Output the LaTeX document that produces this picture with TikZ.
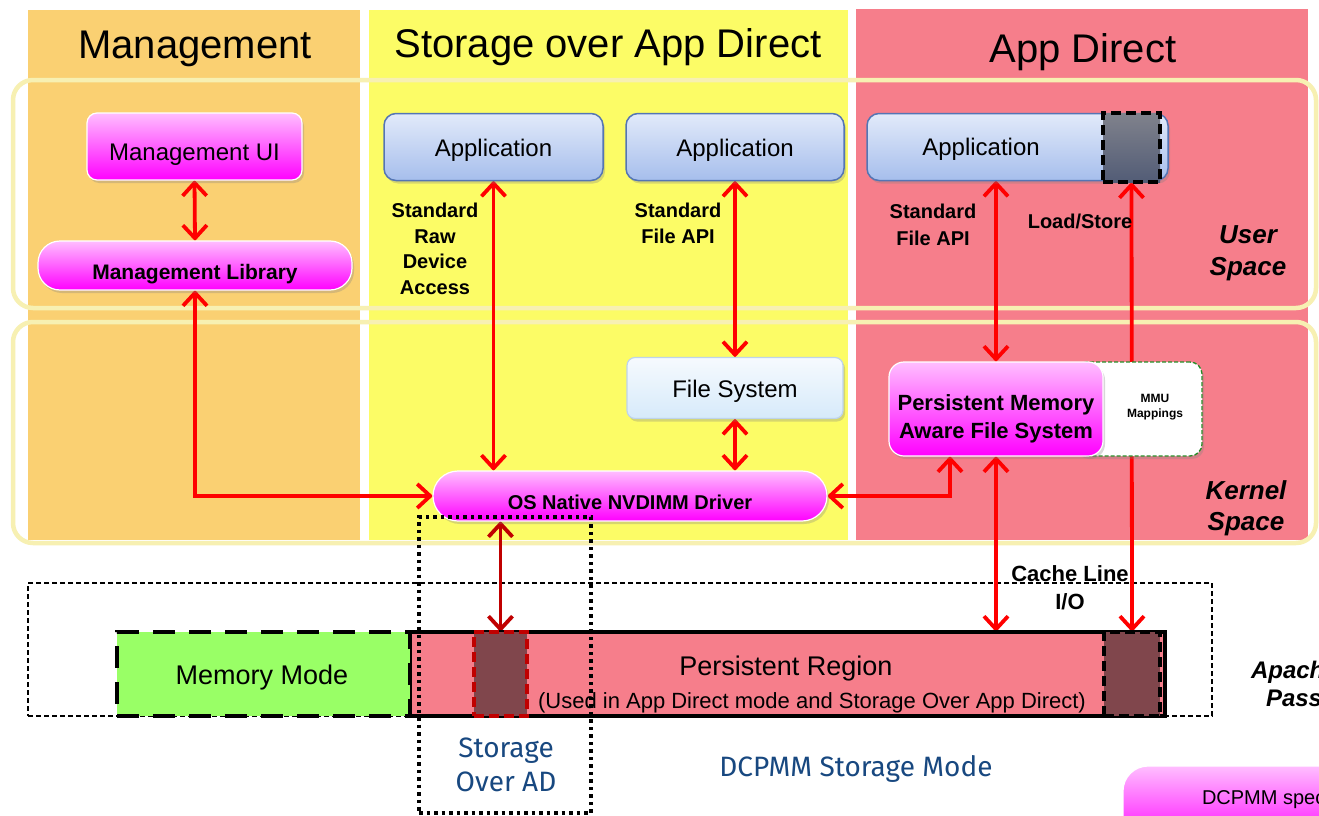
\documentclass[tikz,border=0pt]{standalone}
\usepackage{fontspec}
\setmainfont{Liberation Sans}
\newfontfamily\firafam{Fira Sans}
\usetikzlibrary{arrows.meta,shadows}
\pgfdeclarelayer{bg}
\pgfdeclarelayer{arr}
\pgfsetlayers{bg,arr,main}
\newcommand\fsz[2]{\fontsize{#1pt}{#2pt}\selectfont}
\definecolor{orangeBG}{RGB}{250,208,114}
\definecolor{yellowBG}{RGB}{252,252,102}
\definecolor{pinkBG}{RGB}{246,126,139}
\definecolor{bandC}{RGB}{247,240,178}
\definecolor{magTop}{RGB}{255,190,255}
\definecolor{appTop}{RGB}{226,234,250}
\definecolor{appBot}{RGB}{166,190,236}
\definecolor{appBorder}{RGB}{84,117,180}
\definecolor{fsTop}{RGB}{246,250,254}
\definecolor{fsBot}{RGB}{214,234,250}
\definecolor{fsBorder}{RGB}{190,212,235}
\definecolor{gsqTop}{RGB}{128,130,140}
\definecolor{gsqBot}{RGB}{82,92,118}
\definecolor{darkSq}{RGB}{128,70,76}
\definecolor{darkRed}{RGB}{192,0,0}
\definecolor{arrRed}{RGB}{255,0,0}
\definecolor{greenMM}{RGB}{153,255,102}
\definecolor{blueTxt}{RGB}{24,72,128}
\definecolor{mmuGreen}{RGB}{40,140,40}
\begin{document}
\begin{tikzpicture}[x=1pt,y=-1pt,
  every node/.style={inner sep=0pt,outer sep=0pt},
  shad/.style={drop shadow={shadow xshift=2pt,shadow yshift=-3pt,opacity=0.3}},
  mag/.style={shad,draw=white,line width=1.2pt,top color=magTop,bottom color=magenta},
  appbox/.style={shad,draw=appBorder,line width=1.5pt,top color=appTop,bottom color=appBot,rounded corners=12pt,minimum height=67pt},
  txt/.style={anchor=base,font=\fsz{24}{28}},
  btxt/.style={anchor=base,font=\fsz{20}{25}\bfseries},
  bitxt/.style={anchor=base,font=\fsz{26}{30}\bfseries\itshape},
  ttl/.style={anchor=base,font=\fsz{40}{48}},
  band/.style={draw=bandC,line width=4.5pt,rounded corners=20pt},
  rar/.style={draw=arrRed,line width=3.8pt,>={Straight Barb[length=13pt,width=24pt]},<->},
  bluetxt/.style={anchor=base,text=blueTxt,font=\firafam\fsz{28}{32}},
]
\useasboundingbox (0,0) rectangle (1319,816);
\clip (0,0) rectangle (1319,816);

\begin{pgfonlayer}{bg}
  \fill[white] (0,0) rectangle (1319,816);
  \fill[orangeBG] (28,10) rectangle (360,540);
  \fill[yellowBG] (369,10) rectangle (848,540);
  \fill[pinkBG] (856,9) rectangle (1308,540);
  \draw[band] (13,80) rectangle (1316,308);
  \draw[band] (13,322) rectangle (1316,543);
  \node[draw,line width=1.2pt,dash pattern=on 5pt off 3pt,minimum width=1184pt,minimum height=133pt] (bigdash) at (620,649.5) {};
\end{pgfonlayer}

% titles
\node[ttl] (tmg) at (195,59) {Management};
\node[ttl] (tsad) at (608,58) {Storage over App Direct};
\node[ttl] (tad) at (1083,63) {App Direct};

% user space
\node[mag,rounded corners=10pt,minimum width=215pt,minimum height=67pt] (mui) at (194.5,146.5) {};
\node[txt] (muit) at (194.5,160) {Management UI};
\node[mag,rounded corners=22pt,minimum width=314pt,minimum height=49pt] (mlib) at (195,265.5) {};
\node[anchor=base,font=\fsz{21}{25}\bfseries] (mlibt) at (195,279) {Management Library};

\node[appbox,minimum width=219pt] (app1) at (493.5,147) {};
\node[txt] (app1t) at (493.5,156) {Application};
\node[appbox,minimum width=218pt] (app2) at (735,147) {};
\node[txt] (app2t) at (735,156) {Application};
\node[appbox,minimum width=301pt] (app3) at (1017.5,147) {};
\node[txt] (app3t) at (981,155) {Application};
\node[draw=black,line width=4pt,dash pattern=on 10pt off 5pt,top color=gsqTop,bottom color=gsqBot,minimum width=57pt,minimum height=69pt] (gsq) at (1131.5,147.5) {};

\node[btxt] (s1a) at (435,217) {Standard};
\node[btxt] (s1b) at (435,243) {Raw};
\node[btxt] (s1c) at (435,268) {Device};
\node[btxt] (s1d) at (435,294) {Access};
\node[btxt] (s2a) at (678,217) {Standard};
\node[btxt] (s2b) at (678,243) {File API};
\node[btxt] (s3a) at (933,218) {Standard};
\node[btxt] (s3b) at (933,245) {File API};
\node[btxt] (ls) at (1080,228) {Load/Store};
\node[bitxt] (us1) at (1248,243) {User};
\node[bitxt] (us2) at (1248,275) {Space};

% kernel space
\node[shad,draw=fsBorder,line width=1.2pt,top color=fsTop,bottom color=fsBot,rounded corners=8pt,minimum width=216pt,minimum height=61pt] (fs) at (735,388) {};
\node[txt] (fst) at (735,397) {File System};
\node[shad,draw=mmuGreen,fill=white,line width=1.3pt,dash pattern=on 4pt off 2pt,rounded corners=12pt,minimum width=127pt,minimum height=94pt] (mmu) at (1138.5,409) {};
\node[anchor=base,font=\fsz{12}{14}\bfseries] (mmut1) at (1155,402) {MMU};
\node[anchor=base,font=\fsz{12}{14}\bfseries] (mmut2) at (1155,417) {Mappings};
\node[mag,rounded corners=15pt,minimum width=214pt,minimum height=94pt] (pmfs) at (996,409) {};
\node[anchor=base,font=\fsz{22}{28}\bfseries] (pmt1) at (996,410) {Persistent Memory};
\node[anchor=base,font=\fsz{22}{28}\bfseries] (pmt2) at (996,438) {Aware File System};
\node[mag,rounded corners=25pt,minimum width=394pt,minimum height=50pt] (drv) at (630,496) {};
\node[anchor=base,font=\fsz{20}{24}\bfseries] (drvt) at (630,509) {OS Native NVDIMM Driver};
\node[bitxt] (ks1) at (1246,499) {Kernel};
\node[bitxt] (ks2) at (1246,530) {Space};

% bottom
\node[fill=pinkBG,draw=black,line width=4.5pt,minimum width=755pt,minimum height=84pt] (preg) at (787.5,674) {};
\node[fill=greenMM,draw=black,line width=4.5pt,dash pattern=on 22pt off 14pt,minimum width=293pt,minimum height=84pt] (mem) at (263.5,674) {};
\node[fill=darkSq,draw=darkRed,line width=3.5pt,dash pattern=on 10pt off 5pt,minimum width=53pt,minimum height=84pt] (sqL) at (500.5,674) {};
\node[fill=darkSq,draw=black,line width=3.5pt,dash pattern=on 10pt off 5pt,minimum width=56pt,minimum height=84pt] (sqR) at (1132,674) {};
\node[anchor=base,font=\fsz{27}{30}] (memt) at (262,684) {Memory Mode};
\node[anchor=base,font=\fsz{27}{30}] (pregt1) at (786,675) {Persistent Region};
\node[anchor=base,font=\fsz{22}{26}] (pregt2) at (812,708) {(Used in App Direct mode and Storage Over App Direct)};
\node[anchor=base,font=\fsz{22}{26}\bfseries] (cl1) at (1070,581) {Cache Line};
\node[anchor=base,font=\fsz{22}{26}\bfseries] (cl2) at (1070,609) {I/O};
\node[anchor=base west,font=\fsz{24}{28}\bfseries\itshape] (ap1) at (1251,678) {Apache};
\node[anchor=base west,font=\fsz{24}{28}\bfseries\itshape] (ap2) at (1266,706) {Pass};
\node[bluetxt] (sa1) at (506,757) {Storage};
\node[bluetxt] (sa2) at (506,791) {Over AD};
\node[bluetxt] (dsm) at (856,776) {DCPMM Storage Mode};
\node[mag,rounded corners=25pt,minimum width=260pt,minimum height=80pt,anchor=north west] (dsp) at (1123,766) {};
\node[anchor=base west,font=\fsz{20}{24}] (dspt) at (1202,804) {DCPMM specific};

% storage over AD dotted frame
\node[draw=black,line width=3.5pt,dash pattern=on 3.5pt off 4pt,minimum width=172pt,minimum height=296pt] (sad) at (505,665) {};

% connectors
\begin{pgfonlayer}{arr}
  \draw[rar] (mui.south) -- (mlib.north);
  \draw[rar] (mlib.south) |- (drv.west);
  \draw[rar] (app1.south) -- (app1.south |- drv.north);
  \draw[rar] (app2.south) -- (fs.north);
  \draw[rar] (fs.south) -- (fs.south |- drv.north);
  \draw[rar] (pmfs.north |- app3.south) -- (pmfs.north);
  \draw[rar] (drv.east) -| ([xshift=-46pt]pmfs.south);
  \draw[rar] (pmfs.south) -- (pmfs.south |- preg.north);
  \draw[rar] (gsq.south) -- (sqR.north);
  \draw[rar,draw=darkRed] (sqL.north |- drv.south) -- (sqL.north);
\end{pgfonlayer}
\end{tikzpicture}
\end{document}
